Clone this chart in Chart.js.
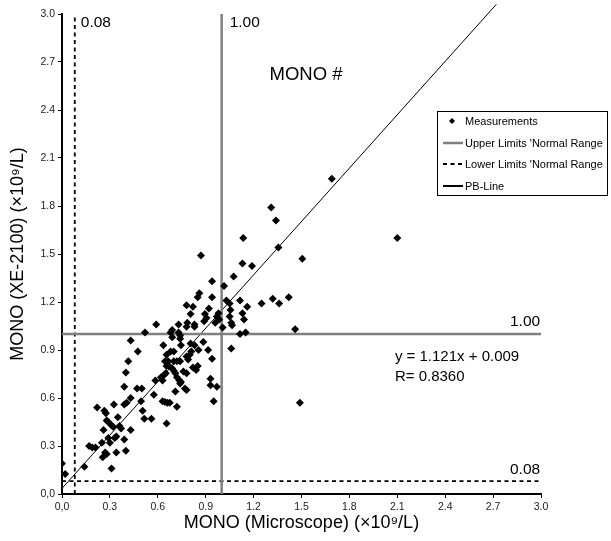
<!DOCTYPE html>
<html>
<head>
<meta charset="utf-8">
<script src="https://cdn.jsdelivr.net/npm/chart.js@4.4.0/dist/chart.umd.min.js"></script>
<style>
  html, body { margin: 0; padding: 0; background: #fff; }
  canvas { display: block; }
</style>
</head>
<body>
<canvas id="chart" width="611" height="541"></canvas>
<script>
// MONO counts: microscope reference vs. XE-2100 analyser (x10^9/L)
const microscope = [
  0.00, 0.02, 0.14, 0.31, 0.17, 0.19, 0.21, 0.255, 0.27, 0.28, 0.34, 0.40, 0.25, 0.30, 0.29, 0.33, 0.39,
  0.22, 0.265, 0.275, 0.325, 0.28, 0.29, 0.31, 0.32, 0.26, 0.35, 0.36, 0.37, 0.34, 0.43,
  0.39, 0.405, 0.43, 0.39, 0.47, 0.50, 0.495, 0.505, 0.515, 0.56,
  0.40, 0.415, 0.475, 0.43, 0.52, 0.59, 0.575, 0.585, 0.62, 0.63, 0.63, 0.645, 0.66, 0.655, 0.635, 0.645, 0.655,
  0.87, 0.94, 1.015, 0.86, 0.85, 0.94, 1.03, 1.05, 1.055, 1.05, 1.06, 1.065, 1.006, 0.78, 0.82, 0.805,
  0.92, 0.98, 0.97, 0.895, 0.905, 0.89, 0.785, 0.83, 0.83, 0.73, 0.69, 0.73, 0.96, 0.985, 0.74, 0.68, 0.78,
  0.74, 0.745, 0.69, 0.68, 0.655, 0.70, 0.855, 0.885, 0.915, 0.94, 0.80, 0.81, 0.83, 0.79, 0.805, 0.78,
  0.665, 0.72, 0.74, 0.70, 0.67, 0.69, 0.70, 0.71, 0.72, 0.735, 0.74, 0.76, 0.78, 0.82, 0.84, 0.85,
  0.64, 0.65, 0.745, 0.77, 0.78, 0.71, 0.93, 0.93, 0.97, 0.95, 0.675, 0.72, 1.06,
  1.115, 1.15, 1.31, 1.34, 1.135, 1.355, 1.505, 1.13, 1.19, 1.075, 1.115, 1.16, 1.13, 1.14,
  1.25, 1.32, 1.36, 1.42, 1.46, 1.69, 2.10, 1.49
];
const xe2100 = [
  0.19, 0.125, 0.17, 0.16, 0.30, 0.29, 0.29, 0.23, 0.26, 0.25, 0.26, 0.27, 0.32, 0.32, 0.35, 0.35, 0.34,
  0.54, 0.52, 0.505, 0.56, 0.46, 0.45, 0.43, 0.42, 0.40, 0.48, 0.425, 0.41, 0.36, 0.40,
  0.56, 0.57, 0.60, 0.67, 0.66, 0.66, 0.58, 0.52, 0.47, 0.47,
  0.76, 0.83, 0.89, 0.96, 1.01, 1.06, 0.62, 0.71, 0.73, 0.71, 0.58, 0.575, 0.57, 0.44, 0.93, 0.83, 0.80,
  1.49, 1.33, 1.30, 1.255, 1.23, 1.23, 1.21, 1.19, 1.15, 1.11, 1.07, 1.055, 1.04, 1.18, 1.17, 1.125,
  1.16, 1.13, 1.11, 1.125, 1.10, 1.08, 1.07, 1.06, 1.045, 1.06, 1.025, 1.01, 1.07, 1.09, 0.99, 1.01, 1.045,
  0.97, 0.93, 0.98, 0.89, 0.87, 0.89, 0.90, 0.95, 0.90, 0.845, 0.87, 0.89, 0.93, 0.84, 0.94, 0.86,
  0.83, 0.83, 0.83, 0.83, 0.80, 0.785, 0.77, 0.755, 0.73, 0.71, 0.69, 0.765, 0.755, 0.79, 0.775, 0.80,
  0.745, 0.755, 0.70, 0.66, 0.65, 0.64, 0.72, 0.68, 0.67, 0.58, 0.57, 0.545, 0.91,
  1.00, 1.01, 1.79, 1.71, 1.60, 1.54, 1.47, 1.44, 1.425, 1.36, 1.21, 1.17, 1.13, 1.09,
  1.19, 1.22, 1.19, 1.23, 1.03, 1.97, 1.60, 0.57
];

const tickLabels = ['0,0', '0.3', '0.6', '0.9', '1.2', '1.5', '1.8', '2.1', '2.4', '2.7', '3.0'];

// Normal-range limits and the Passing-Bablok line
const upperLimit = 1.00;
const lowerLimit = 0.08;
const pbLineX = [0, 2.72];
const pbLineY = [0.035, 3.06];
const equationLines = ['y = 1.121x + 0.009', 'R= 0.8360'];

const FONT = "'Liberation Sans', Arial, Helvetica, sans-serif";
const GRAY = '#808080';

const points = microscope.map((x, i) => ({ x, y: xe2100[i] }));
const seg = (x0, y0, x1, y1) => [{ x: x0, y: y0 }, { x: x1, y: y1 }];

const lineStyle = (extra) => Object.assign({
  showLine: true, pointRadius: 0, pointHoverRadius: 0, fill: false, tension: 0
}, extra);

// Legend drawn as a framed box inside the plot
const boxLegend = {
  id: 'boxLegend',
  afterDraw(chart, args, opts) {
    const ctx = chart.ctx;
    const seen = new Set();
    const items = chart.data.datasets.filter(d => {
      if (seen.has(d.label)) return false;
      seen.add(d.label);
      return true;
    });
    ctx.save();
    ctx.fillStyle = '#fff';
    ctx.fillRect(opts.left, opts.top, opts.width, opts.height);
    ctx.strokeStyle = '#000';
    ctx.lineWidth = 1;
    ctx.strokeRect(opts.left + 0.5, opts.top + 0.5, opts.width, opts.height);
    ctx.font = opts.fontSize + 'px ' + FONT;
    ctx.textBaseline = 'middle';
    items.forEach((d, i) => {
      const y = Math.round(opts.top + opts.firstRow + i * opts.rowGap);
      const x0 = opts.left + 6;
      const x1 = x0 + 20;
      if (d.showLine) {
        ctx.save();
        ctx.strokeStyle = d.borderColor;
        ctx.lineWidth = Math.max(2, d.borderWidth);
        ctx.setLineDash(d.borderDash || []);
        ctx.beginPath();
        ctx.moveTo(x0, y);
        ctx.lineTo(x1, y);
        ctx.stroke();
        ctx.restore();
      } else {
        Chart.helpers.drawPoint(ctx, {
          pointStyle: d.pointStyle, radius: 3, borderWidth: 0, rotation: 0
        }, (x0 + x1) / 2 - 1, y);
        ctx.fillStyle = d.backgroundColor;
        ctx.fill();
      }
      ctx.fillStyle = '#000';
      ctx.fillText(d.label, opts.left + 28, y + 0.5);
    });
    ctx.restore();
  }
};

// Text notes anchored to data values, offset in pixels
const notes = {
  id: 'notes',
  afterDatasetsDraw(chart, args, opts) {
    const { ctx, scales: { x, y } } = chart;
    ctx.save();
    ctx.fillStyle = '#000';
    ctx.textBaseline = 'middle';
    ctx.textAlign = 'left';
    opts.items.forEach(n => {
      ctx.font = n.size + 'px ' + FONT;
      ctx.fillText(n.text, x.getPixelForValue(n.x) + n.dx, y.getPixelForValue(n.y) + n.dy);
    });
    ctx.restore();
  }
};

new Chart(document.getElementById('chart'), {
  type: 'scatter',
  data: {
    datasets: [
      {
        label: 'Measurements',
        data: points,
        pointStyle: 'rectRot',
        pointRadius: 4,
        pointHoverRadius: 4,
        backgroundColor: '#000',
        borderColor: '#000',
        borderWidth: 0,
        showLine: false
      },
      lineStyle({ label: "Upper Limits 'Normal Range", data: seg(upperLimit, 0, upperLimit, 3), borderColor: GRAY, borderWidth: 2.5 }),
      lineStyle({ label: "Upper Limits 'Normal Range", data: seg(0, upperLimit, 3, upperLimit), borderColor: GRAY, borderWidth: 2.5 }),
      lineStyle({ label: "Lower Limits 'Normal Range", data: seg(lowerLimit, 0, lowerLimit, 3), borderColor: '#000', borderWidth: 1.8, borderDash: [4, 3.5] }),
      lineStyle({ label: "Lower Limits 'Normal Range", data: seg(0, lowerLimit, 3, lowerLimit), borderColor: '#000', borderWidth: 1.8, borderDash: [4, 3.5] }),
      lineStyle({ label: 'PB-Line', data: seg(pbLineX[0], pbLineY[0], pbLineX[1], pbLineY[1]), borderColor: '#000', borderWidth: 1, clip: false })
    ]
  },
  options: {
    responsive: false,
    animation: false,
    devicePixelRatio: 1,
    layout: { padding: { top: 14, right: 70, left: 0, bottom: 0 } },
    plugins: {
      legend: { display: false },
      tooltip: { enabled: false },
      boxLegend: { left: 437, top: 111, width: 170, height: 84, firstRow: 10, rowGap: 21.5, fontSize: 11 },
      notes: {
        items: [
          { text: '0.08', x: lowerLimit, y: 3, dx: 6, dy: 9, size: 15.5 },
          { text: '1.00', x: upperLimit, y: 3, dx: 8, dy: 9, size: 15.5 },
          { text: 'MONO #', x: 1.30, y: 2.62, dx: 0, dy: 0, size: 18.5 },
          { text: '1.00', x: 3, y: upperLimit, dx: -31, dy: -12, size: 15.5 },
          { text: '0.08', x: 3, y: lowerLimit, dx: -31, dy: -11, size: 15.5 },
          { text: equationLines[0], x: 2.085, y: 0.856, dx: 0, dy: 0, size: 15 },
          { text: equationLines[1], x: 2.085, y: 0.731, dx: 0, dy: 0, size: 15 }
        ]
      }
    },
    scales: {
      x: {
        type: 'linear',
        min: 0,
        max: 3,
        afterFit: (s) => { s.height = 47; },
        border: { display: true, color: '#000', width: 2 },
        grid: { drawOnChartArea: false, drawTicks: true, tickLength: 4, color: '#000', lineWidth: 1 },
        ticks: {
          stepSize: 0.3,
          autoSkip: false,
          maxRotation: 0,
          padding: 3,
          color: '#222',
          font: { family: FONT, size: 10.5 },
          callback: (v, i) => tickLabels[i]
        },
        title: {
          display: true,
          text: 'MONO (Microscope) (×10⁹/L)',
          color: '#000',
          font: { family: FONT, size: 18 },
          padding: { top: 0, bottom: 7 }
        }
      },
      y: {
        type: 'linear',
        min: 0,
        max: 3,
        afterFit: (s) => { s.width = 62; },
        border: { display: true, color: '#000', width: 2 },
        grid: { drawOnChartArea: false, drawTicks: true, tickLength: 4, color: '#000', lineWidth: 1 },
        ticks: {
          stepSize: 0.3,
          autoSkip: false,
          padding: 3,
          color: '#222',
          font: { family: FONT, size: 10.5 },
          callback: (v, i) => tickLabels[i]
        },
        title: {
          display: true,
          text: 'MONO (XE-2100) (×10⁹/L)',
          color: '#000',
          font: { family: FONT, size: 18 },
          padding: { top: 7, bottom: 0 }
        }
      }
    }
  },
  plugins: [boxLegend, notes]
});
</script>
</body>
</html>
